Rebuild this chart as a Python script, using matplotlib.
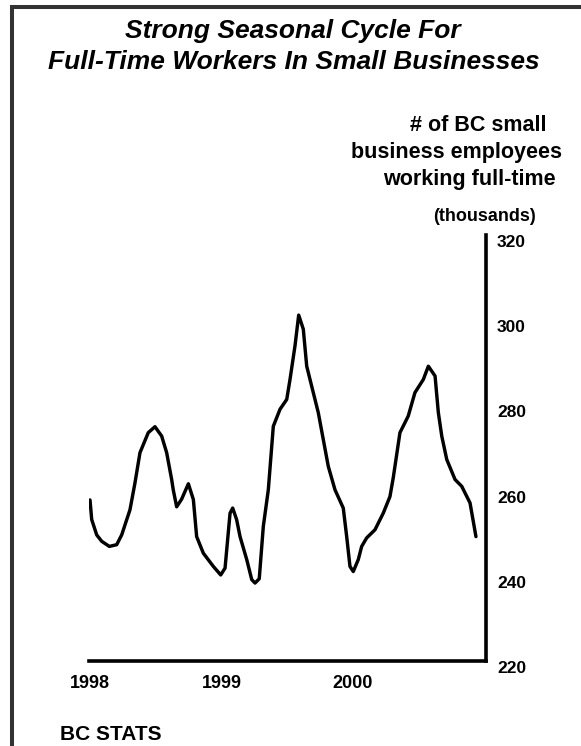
import matplotlib
matplotlib.use('Agg')
import matplotlib.pyplot as plt
import matplotlib.transforms as mtransforms
from matplotlib.patches import Rectangle

# ---- data (decimal year, thousands of full-time small-business employees) ----
year_frac = [1998.000, 1998.013, 1998.051, 1998.089, 1998.147, 1998.203, 1998.241,
             1998.304, 1998.342, 1998.380, 1998.443, 1998.494, 1998.545, 1998.583,
             1998.621, 1998.633, 1998.659, 1998.697, 1998.748, 1998.786, 1998.811,
             1998.862, 1998.938, 1998.994, 1999.027, 1999.065, 1999.085, 1999.115,
             1999.141, 1999.192, 1999.230, 1999.255, 1999.287, 1999.318, 1999.356,
             1999.394, 1999.445, 1999.496, 1999.521, 1999.559, 1999.587, 1999.622,
             1999.648, 1999.698, 1999.736, 1999.774, 1999.812, 1999.863, 1999.926,
             1999.952, 1999.977, 2000.002, 2000.040, 2000.066, 2000.104, 2000.167,
             2000.230, 2000.281, 2000.306, 2000.357, 2000.420, 2000.471, 2000.535,
             2000.573, 2000.624, 2000.649, 2000.675, 2000.713, 2000.776, 2000.827,
             2000.890, 2000.935]
employees = [257.8, 253.2, 249.6, 248.1, 246.9, 247.3, 249.6,
             255.5, 261.8, 268.9, 273.6, 275.0, 272.8, 268.9,
             262.6, 260.2, 256.2, 258.0, 261.6, 257.9, 249.2,
             245.3, 242.2, 240.2, 241.8, 254.7, 255.9, 253.2,
             249.2, 243.8, 239.1, 238.3, 239.3, 251.6, 260.2,
             275.1, 279.1, 281.4, 286.1, 294.0, 301.2, 297.9,
             289.2, 283.0, 278.3, 272.0, 265.7, 260.2, 255.9,
             249.2, 242.2, 241.0, 243.8, 246.9, 248.9, 250.8,
             254.7, 258.6, 263.0, 273.6, 277.5, 283.0, 286.1,
             289.2, 286.9, 278.3, 272.8, 267.3, 262.6, 261.0,
             257.1, 249.2]

x_ticks = [1998, 1999, 2000]
x_tick_labels = ['1998', '1999', '2000']
y_ticks = [220, 240, 260, 280, 300, 320]
y_tick_labels = ['220', '240', '260', '280', '300', '320']

title_lines = ['Strong Seasonal Cycle For', 'Full-Time Workers In Small Businesses']
ylabel_lines = ['# of BC small', 'business employees', 'working full-time']
unit_label = '(thousands)'
source_label = 'BC STATS'

# ---- figure ----
W, H = 581, 746
plt.rcParams['font.family'] = ['Liberation Sans', 'DejaVu Sans']
fig = plt.figure(figsize=(W / 100, H / 100), dpi=100)
fig.patch.set_facecolor('white')

def fx(px):
    return px / W

def fy(py):
    return 1 - py / H

# frame (left and top edges only visible)
fig.add_artist(Rectangle((fx(12), -0.2), 2.0, fy(7) + 0.2, transform=fig.transFigure,
                         fill=False, edgecolor='#333333', lw=2.9))

ax = fig.add_axes([fx(89), fy(661), (486 - 89) / W, (661 - 235) / H])
ax.plot(year_frac, employees, color='black', lw=2.45,
        solid_joinstyle='round', solid_capstyle='round')
ax.set_xlim(1998 - 1 / 131.5, 1998 + (486 - 90) / 131.5)
ax.set_ylim(220, 320)

for s in ['top', 'left']:
    ax.spines[s].set_visible(False)
for s in ['bottom', 'right']:
    ax.spines[s].set_linewidth(2.6)
    ax.spines[s].set_capstyle('projecting')
    ax.spines[s].set_color('black')

ax.yaxis.tick_right()
ax.set_xticks(x_ticks)
ax.set_xticklabels(x_tick_labels)
ax.set_yticks(y_ticks)
ax.set_yticklabels(y_tick_labels)
ax.tick_params(axis='both', length=0)
ax.tick_params(axis='x', pad=10, labelsize=13)
ax.tick_params(axis='y', pad=8, labelsize=12.5)
for lab in ax.get_xticklabels() + ax.get_yticklabels():
    lab.set_fontweight('bold')
offset = mtransforms.ScaledTranslation(0, -6 / 100, fig.dpi_scale_trans)
for lab in ax.get_yticklabels():
    lab.set_transform(lab.get_transform() + offset)

# titles & labels
fig.text(fx(293), fy(38), title_lines[0], ha='center', va='baseline',
         fontsize=19, fontweight='bold', fontstyle='italic')
fig.text(fx(294), fy(69), title_lines[1], ha='center', va='baseline',
         fontsize=19, fontweight='bold', fontstyle='italic')

for (line, xr, yb) in zip(ylabel_lines, [547, 562, 556], [131, 158, 185]):
    fig.text(fx(xr), fy(yb), line, ha='right', va='baseline',
             fontsize=15.5, fontweight='bold')

fig.text(fx(484), fy(221), unit_label, ha='center', va='baseline',
         fontsize=13, fontweight='bold')
fig.text(fx(60), fy(740), source_label, ha='left', va='baseline',
         fontsize=15, fontweight='bold')

fig.savefig('out.png', dpi=100, facecolor='white')
